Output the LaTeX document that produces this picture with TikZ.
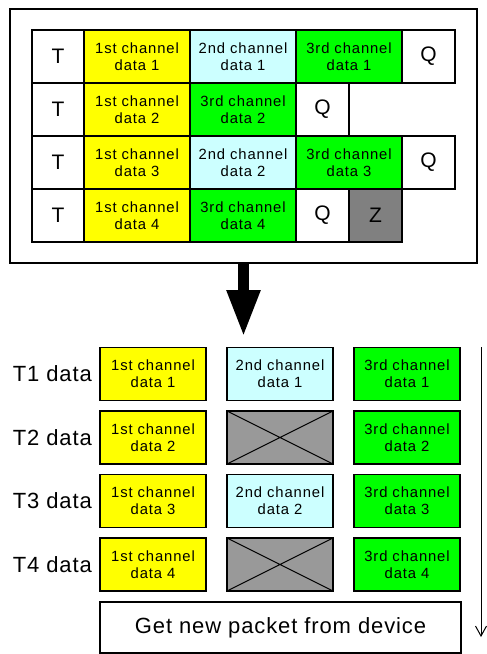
\documentclass[tikz,border=0pt]{standalone}
\usepackage{fontspec}
\setmainfont{Liberation Sans}
\newfontfamily\cellfont[LetterSpace=6]{Liberation Sans}
\newfontfamily\bigfont[LetterSpace=4]{Liberation Sans}
\usetikzlibrary{arrows.meta}
\definecolor{cyanL}{HTML}{CCFFFF}
\definecolor{yel}{HTML}{FFFF00}
\definecolor{grn}{HTML}{00FF00}
\definecolor{zgray}{HTML}{808080}
\definecolor{xgray}{HTML}{999999}
\begin{document}
\begin{tikzpicture}[x=1pt,y=-1pt,
  cell/.style={draw, line width=1.4pt, minimum width=#1, minimum height=53pt, inner sep=0pt, outer sep=0pt,
    anchor=north west, font=\cellfont\fontsize{14.8}{17}\selectfont, align=center},
  bigcell/.style={cell=#1, font=\bigfont\fontsize{21}{24}\selectfont},
  lbox/.style={draw, line width=1.6pt, minimum width=106pt, minimum height=53pt, inner sep=0pt, outer sep=0pt,
    anchor=north west, font=\cellfont\fontsize{14.8}{17}\selectfont, align=center},
  tlabel/.style={anchor=east, font=\bigfont\fontsize{22}{24}\selectfont, inner sep=0pt},
  cross/.style={line width=1.1pt},
  timeline/.style={line width=1pt}
]
\useasboundingbox (0,0) rectangle (487,654);
% outer frame
\node[draw, line width=1.6pt, minimum width=467pt, minimum height=254pt, inner sep=0pt, outer sep=0pt, anchor=north west] (outer) at (10,9) {};
% row 1
\node[bigcell=52pt] (r1t) at (32,30) {T};
\node[cell=106pt, fill=yel] (r1a) at (84,30) {1st channel\\data 1};
\node[cell=106pt, fill=cyanL] (r1b) at (190,30) {2nd channel\\data 1};
\node[cell=106pt, fill=grn] (r1c) at (296,30) {3rd channel\\data 1};
\node[bigcell=53pt] (r1q) at (402,30) {Q};
% row 2
\node[bigcell=52pt] (r2t) at (32,83) {T};
\node[cell=106pt, fill=yel] (r2a) at (84,83) {1st channel\\data 2};
\node[cell=106pt, fill=grn] (r2c) at (190,83) {3rd channel\\data 2};
\node[bigcell=53pt] (r2q) at (296,83) {Q};
% row 3
\node[bigcell=52pt] (r3t) at (32,136) {T};
\node[cell=106pt, fill=yel] (r3a) at (84,136) {1st channel\\data 3};
\node[cell=106pt, fill=cyanL] (r3b) at (190,136) {2nd channel\\data 2};
\node[cell=106pt, fill=grn] (r3c) at (296,136) {3rd channel\\data 3};
\node[bigcell=53pt] (r3q) at (402,136) {Q};
% row 4
\node[bigcell=52pt] (r4t) at (32,189) {T};
\node[cell=106pt, fill=yel] (r4a) at (84,189) {1st channel\\data 4};
\node[cell=106pt, fill=grn] (r4c) at (190,189) {3rd channel\\data 4};
\node[bigcell=53pt] (r4q) at (296,189) {Q};
\node[bigcell=53pt, fill=zgray] (r4z) at (349,189) {Z};
% big arrow
\coordinate (tip) at (243.5,337);
\draw[line width=11pt, -{Triangle[width=31pt,length=47pt]}] (outer.south) -- (tip);
% lower blocks
\node[lbox, fill=yel] (a1) at (100,347.5) {1st channel\\data 1};
\node[lbox, fill=cyanL] (b1) at (227,347.5) {2nd channel\\data 1};
\node[lbox, fill=grn] (c1) at (354,347.5) {3rd channel\\data 1};
\node[lbox, fill=yel] (a2) at (100,411) {1st channel\\data 2};
\node[lbox, fill=xgray] (b2) at (227,411) {};
\node[lbox, fill=grn] (c2) at (354,411) {3rd channel\\data 2};
\node[lbox, fill=yel] (a3) at (100,474.5) {1st channel\\data 3};
\node[lbox, fill=cyanL] (b3) at (227,474.5) {2nd channel\\data 2};
\node[lbox, fill=grn] (c3) at (354,474.5) {3rd channel\\data 3};
\node[lbox, fill=yel] (a4) at (100,538) {1st channel\\data 4};
\node[lbox, fill=xgray] (b4) at (227,538) {};
\node[lbox, fill=grn] (c4) at (354,538) {3rd channel\\data 4};
\draw[cross] (b2.north west) -- (b2.south east) (b2.south west) -- (b2.north east);
\draw[cross] (b4.north west) -- (b4.south east) (b4.south west) -- (b4.north east);
% row labels
\node[tlabel] (l1) at (92,374) {T1 data};
\node[tlabel] (l2) at (92,437.5) {T2 data};
\node[tlabel] (l3) at (92,501) {T3 data};
\node[tlabel] (l4) at (92,564.5) {T4 data};
% get new packet
\node[draw, line width=1.6pt, minimum width=361pt, minimum height=51pt, inner sep=0pt, outer sep=0pt, anchor=north west,
  font=\bigfont\fontsize{22}{24}\selectfont] (get) at (100,602) {Get new packet from device};
% time arrow
\coordinate (ts) at (481,347);
\coordinate (te) at (481,636);
\draw[timeline] (ts) -- (te);
\draw[timeline, line join=miter] (te) ++(-5.5,-10) -- (te) -- +(5.5,-10);
\end{tikzpicture}
\end{document}
